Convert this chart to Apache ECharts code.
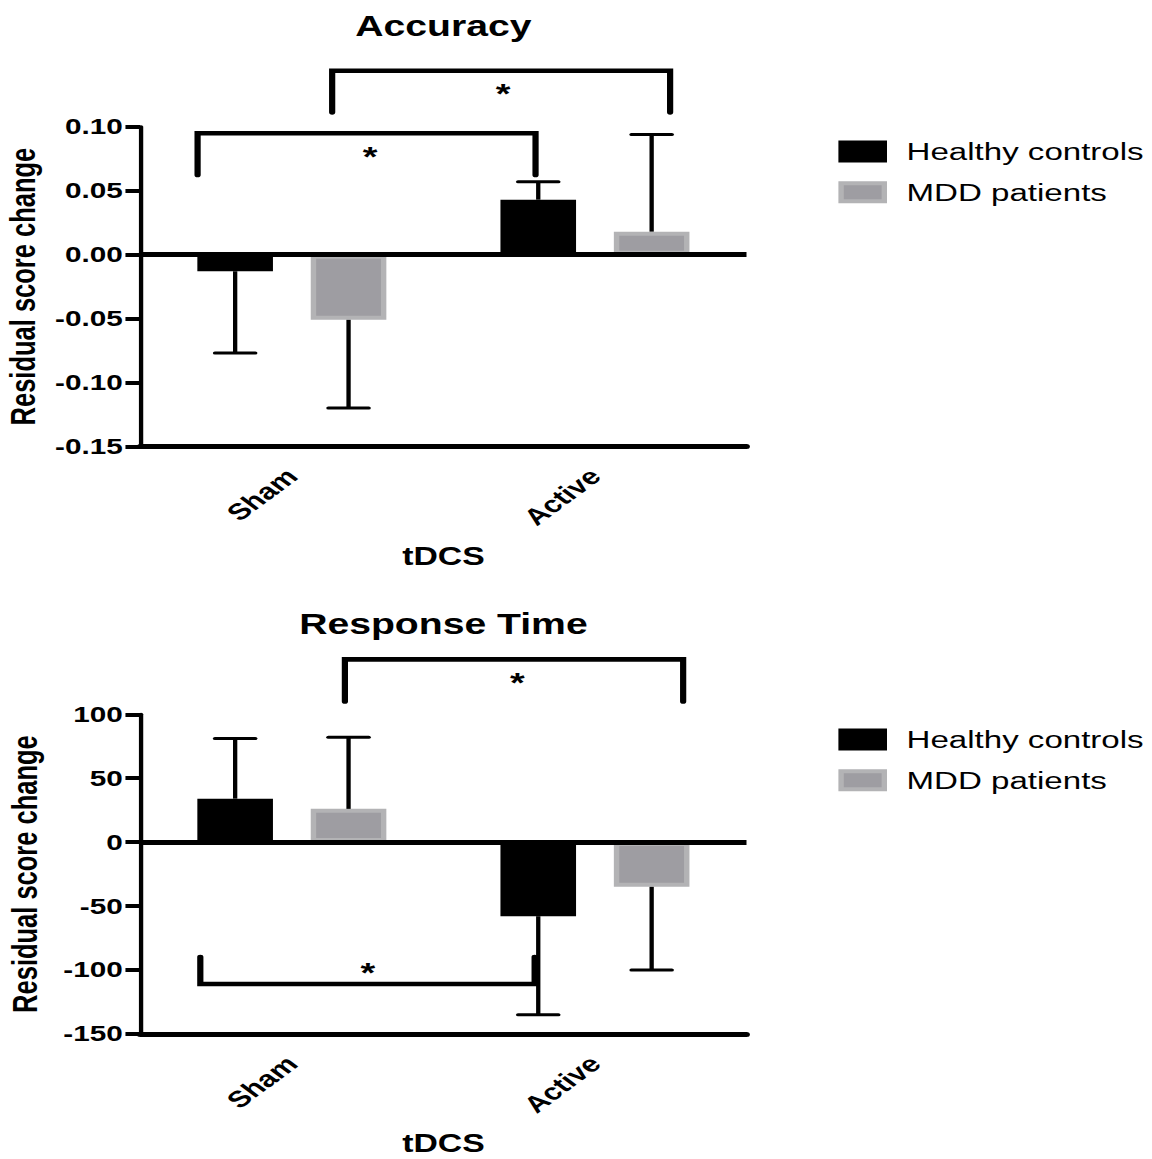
<!DOCTYPE html>
<html>
<head>
<meta charset="utf-8">
<script src="https://cdn.jsdelivr.net/npm/echarts@6/dist/echarts.min.js"></script>
<style>
  html, body { margin: 0; padding: 0; background: #fff; overflow: hidden; }
  #chart { height: 1159px; transform-origin: 0 0; }
</style>
</head>
<body>
<div id="chart"></div>
<script>
// ---------------- data ----------------
const categories = ['Sham', 'Active'];
const groupNames = ['Healthy controls', 'MDD patients'];

// Accuracy (residual score change)
const accHealthy = [-0.013, 0.043];
const accMDD = [-0.051, 0.018];
const accHealthyErrEnd = [-0.077, 0.057];
const accMDDErrEnd = [-0.120, 0.094];
const accTicks = [-0.15, -0.10, -0.05, 0.00, 0.05, 0.10];

// Response time (residual score change)
const rtHealthy = [34, -58];
const rtMDD = [26, -35];
const rtHealthyErrEnd = [81, -135];
const rtMDDErrEnd = [82, -100];
const rtTicks = [-150, -100, -50, 0, 50, 100];

// significance brackets: [xLeft, xRight, yBar, yLegLeftEnd, yLegRightEnd] (x in category-band units 0..2)
const accBrackets = [
  [0.189, 1.304, 0.0949, 0.0623, 0.0623],
  [0.633, 1.748, 0.1438, 0.1113, 0.1113]
];
const accStars = [[0.758, 0.0811], [1.197, 0.1304]];
const rtBrackets = [
  [0.675, 1.791, 143, 110, 110],
  [0.198, 1.301, -111, -90, -90]
];
const rtStars = [[1.244, 129], [0.751, -98]];

// ---------------- layout ----------------
const S = 1.35;                 // horizontal stretch of the reference picture
const W = 1152 / S;
const X = v => v / S;           // picture px -> css px (horizontal)
const FONT = 'Liberation Sans, Arial, Helvetica, sans-serif';

const BAR_W = 56;
const BAR_GAP = 0.5;
const BAR_OFFSET = BAR_W * (1 + BAR_GAP) / 2;
const CAP = 15;

const el = document.getElementById('chart');
el.style.width = W + 'px';
el.style.transform = 'scaleX(' + S + ')';

const chart = echarts.init(el, null, { renderer: 'svg', width: W, height: 1159 });

const gridLeft = X(140.3);
const gridWidth = X(746.5) - X(140.3);
const grids = [
  { left: gridLeft, width: gridWidth, top: 126.8, height: 319.6, containLabel: false, outerBoundsMode: 'none' },
  { left: gridLeft, width: gridWidth, top: 714.3, height: 319.5, containLabel: false, outerBoundsMode: 'none' }
];

function catAxis(gi) {
  return {
    gridIndex: gi, type: 'category', data: categories,
    axisLine: { onZero: false, lineStyle: { color: '#000', width: 5 } },
    axisTick: { alignWithLabel: true, length: 10, lineStyle: { color: '#000', width: 4.2 } },
    axisLabel: { rotate: 45, margin: 26, color: '#000', fontSize: 23, fontWeight: 'bold', fontFamily: FONT },
    name: 'tDCS', nameLocation: 'middle', nameGap: 97,
    nameTextStyle: { color: '#000', fontSize: 25, fontWeight: 'bold', fontFamily: FONT },
    splitLine: { show: false }
  };
}
function bandAxis(gi) {
  return { gridIndex: gi, type: 'value', min: 0, max: 2, show: false, splitLine: { show: false } };
}
function valAxis(gi, ticks, fmt) {
  return {
    gridIndex: gi, type: 'value',
    min: ticks[0], max: ticks[ticks.length - 1], interval: ticks[1] - ticks[0],
    axisLine: { show: true, onZero: false, lineStyle: { color: '#000', width: 3.2 } },
    axisTick: { show: true, length: 11, lineStyle: { color: '#000', width: 4 } },
    axisLabel: { margin: 13, color: '#000', fontSize: 22, fontWeight: 'bold', fontFamily: FONT, formatter: fmt },
    splitLine: { show: false },
    name: 'Residual score change', nameLocation: 'middle', nameRotate: 90, nameGap: 72.5,
    nameTextStyle: { color: '#000', fontSize: 25.5, fontWeight: 'bold', fontFamily: FONT }
  };
}
function fmtAcc(v) {
  const r = Math.round(v * 100) / 100;
  return (Math.abs(r) < 1e-9 ? 0 : r).toFixed(2);
}
function fmtRt(v) {
  const r = Math.round(v);
  return String(r === 0 ? 0 : r);
}

const healthyStyle = { color: '#000000', borderColor: '#000000', borderWidth: 4 };
const mddStyle = { color: '#9e9da2', borderColor: '#b3b3b5', borderWidth: 4 };

function barSeries(name, data, xi, yi, style, withZero) {
  const s = {
    name: name, type: 'bar', xAxisIndex: xi, yAxisIndex: yi, data: data,
    barWidth: BAR_W, barGap: (BAR_GAP * 100) + '%',
    itemStyle: style, silent: true, z: 2
  };
  if (withZero) {
    s.markLine = {
      silent: true, symbol: ['none', 'none'], label: { show: false },
      lineStyle: { color: '#000', width: 5, type: 'solid' },
      data: [{ yAxis: 0 }], z: 3
    };
  }
  return s;
}

function errorSeries(vals, ends, sign, xi, yi) {
  return {
    type: 'custom', xAxisIndex: xi, yAxisIndex: yi, silent: true, clip: false, z: 4,
    data: categories.map((c, i) => [i, vals[i], ends[i]]),
    encode: { x: 0, y: [1, 2] },
    renderItem: function (params, api) {
      const i = api.value(0);
      const p0 = api.coord([i, api.value(1)]);
      const p1 = api.coord([i, api.value(2)]);
      const x = p0[0] + sign * BAR_OFFSET;
      return {
        type: 'group', children: [
          { type: 'line', shape: { x1: x, y1: p0[1], x2: x, y2: p1[1] }, style: { stroke: '#000', lineWidth: 3.2 } },
          { type: 'line', shape: { x1: x - CAP, y1: p1[1], x2: x + CAP, y2: p1[1] }, style: { stroke: '#000', lineWidth: 3, lineCap: 'round' } }
        ]
      };
    }
  };
}

function bracketSeries(brackets, xi, yi) {
  return {
    type: 'custom', xAxisIndex: xi, yAxisIndex: yi, silent: true, clip: false, z: 5,
    data: brackets, encode: { x: [0, 1], y: [2, 3, 4] },
    renderItem: function (params, api) {
      const a = api.coord([api.value(0), api.value(3)]);
      const b = api.coord([api.value(0), api.value(2)]);
      const c = api.coord([api.value(1), api.value(2)]);
      const d = api.coord([api.value(1), api.value(4)]);
      return {
        type: 'polyline', shape: { points: [a, b, c, d] },
        style: { stroke: '#000', fill: 'none', lineWidth: 4.6, lineCap: 'round', lineJoin: 'miter' }
      };
    }
  };
}

function starSeries(stars, xi, yi) {
  return {
    type: 'custom', xAxisIndex: xi, yAxisIndex: yi, silent: true, clip: false, z: 5,
    data: stars, encode: { x: 0, y: 1 },
    renderItem: function (params, api) {
      const p = api.coord([api.value(0), api.value(1)]);
      return {
        type: 'text', x: p[0], y: p[1] + 5,
        style: { text: '*', fill: '#000', fontSize: 28, fontWeight: 'bold', fontFamily: FONT, align: 'center', verticalAlign: 'middle' }
      };
    }
  };
}

function legendAt(top) {
  return {
    top: top, left: X(835.7) + 2, orient: 'vertical', icon: 'rect', padding: 0,
    itemWidth: X(48.6) - 4, itemHeight: 18, itemGap: 15.7, selectedMode: false,
    data: [
      { name: groupNames[0], itemStyle: { color: '#000', borderColor: '#000', borderWidth: 4 } },
      { name: groupNames[1], itemStyle: { color: '#9e9da2', borderColor: '#b3b3b5', borderWidth: 4 } }
    ],
    textStyle: { color: '#000', fontSize: 24.5, fontFamily: FONT, lineHeight: 22, padding: [0, 0, 0, 11.5] }
  };
}

const option = {
  animation: false,
  backgroundColor: '#ffffff',
  textStyle: { fontFamily: FONT },
  title: [
    { text: 'Accuracy', left: gridLeft + gridWidth / 2, textAlign: 'center', top: 11, padding: 0,
      textStyle: { color: '#000', fontSize: 29, fontWeight: 'bold', fontFamily: FONT } },
    { text: 'Response Time', left: gridLeft + gridWidth / 2, textAlign: 'center', top: 609, padding: 0,
      textStyle: { color: '#000', fontSize: 29, fontWeight: 'bold', fontFamily: FONT } }
  ],
  legend: [legendAt(139), legendAt(727)],
  grid: grids,
  xAxis: [catAxis(0), bandAxis(0), catAxis(1), bandAxis(1)],
  yAxis: [
    valAxis(0, accTicks, fmtAcc),
    valAxis(1, rtTicks, fmtRt)
  ],
  series: [
    barSeries(groupNames[0], accHealthy, 0, 0, healthyStyle, true),
    barSeries(groupNames[1], accMDD, 0, 0, mddStyle, false),
    errorSeries(accHealthy, accHealthyErrEnd, -1, 0, 0),
    errorSeries(accMDD, accMDDErrEnd, 1, 0, 0),
    bracketSeries(accBrackets, 1, 0),
    starSeries(accStars, 1, 0),

    barSeries(groupNames[0], rtHealthy, 2, 1, healthyStyle, true),
    barSeries(groupNames[1], rtMDD, 2, 1, mddStyle, false),
    errorSeries(rtHealthy, rtHealthyErrEnd, -1, 2, 1),
    errorSeries(rtMDD, rtMDDErrEnd, 1, 2, 1),
    bracketSeries(rtBrackets, 3, 1),
    starSeries(rtStars, 3, 1)
  ]
};
chart.setOption(option);
</script>
</body>
</html>
